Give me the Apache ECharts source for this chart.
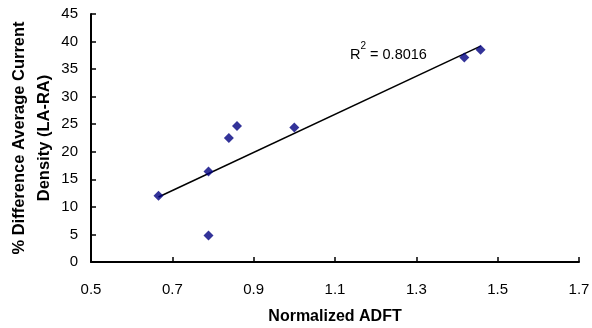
<!DOCTYPE html>
<html>
<head>
<meta charset="utf-8">
<script src="https://cdn.jsdelivr.net/npm/echarts@6/dist/echarts.min.js"></script>
<style>
  html, body { margin: 0; padding: 0; background: #fff; }
  #chart { width: 592px; height: 328px; }
</style>
</head>
<body>
<div id="chart"></div>
<script>
// Normalized ADFT vs % difference (LA-RA)
const adft = [0.666, 0.789, 0.789, 0.839, 0.859, 1.0, 1.418, 1.458];
const pctDiff = [12.0, 16.4, 4.8, 22.5, 24.7, 24.4, 37.1, 38.5];
const rSquared = "0.8016";

// least squares fit for the trendline
const fitLine = (xs, ys) => {
  const n = xs.length;
  const mx = xs.reduce((a, b) => a + b, 0) / n;
  const my = ys.reduce((a, b) => a + b, 0) / n;
  let sxy = 0, sxx = 0;
  for (let i = 0; i < n; i++) {
    sxy += (xs[i] - mx) * (ys[i] - my);
    sxx += (xs[i] - mx) * (xs[i] - mx);
  }
  const slope = sxy / sxx;
  const icpt = my - slope * mx;
  const x0 = Math.min(...xs), x1 = Math.max(...xs);
  return [[x0, icpt + slope * x0], [x1, icpt + slope * x1]];
};

const chart = echarts.init(document.getElementById("chart"));
const font = "Liberation Sans, Arial, sans-serif";

chart.setOption({
  animation: false,
  grid: { left: 91, right: 13, top: 14, bottom: 66, containLabel: false, outerBoundsMode: "none" },
  xAxis: {
    type: "value",
    min: 0.5,
    max: 1.7,
    interval: 0.2,
    name: "Normalized ADFT",
    nameLocation: "middle",
    nameGap: 47,
    nameMoveOverlap: false,
    nameTextStyle: { fontFamily: font, fontSize: 16, fontWeight: "bold", color: "#000" },
    axisLine: { lineStyle: { color: "#000", width: 2 } },
    axisTick: { inside: true, length: 5, lineStyle: { color: "#000", width: 1.5 } },
    axisLabel: {
      fontFamily: font, fontSize: 15, color: "#000", margin: 20,
      formatter: (v) => v.toFixed(1)
    },
    splitLine: { show: false }
  },
  yAxis: {
    type: "value",
    min: 0,
    max: 45,
    interval: 5,
    name: "% Difference Average Current\nDensity (LA-RA)",
    nameLocation: "middle",
    nameGap: 34,
    nameMoveOverlap: false,
    nameTextStyle: { fontFamily: font, fontSize: 16.5, fontWeight: "bold", color: "#000", lineHeight: 25 },
    axisLine: { lineStyle: { color: "#000", width: 2 } },
    axisTick: { inside: true, length: 5, lineStyle: { color: "#000", width: 1.5 } },
    axisLabel: { fontFamily: font, fontSize: 15, color: "#000", margin: 13 },
    splitLine: { show: false }
  },
  series: [
    {
      type: "line",
      data: fitLine(adft, pctDiff),
      symbol: "none",
      lineStyle: { color: "#000", width: 1.5 },
      z: 2
    },
    {
      type: "scatter",
      data: adft.map((x, i) => [x, pctDiff[i]]),
      symbol: "diamond",
      symbolSize: 10,
      itemStyle: { color: "#000080" },
      z: 3
    }
  ],
  graphic: [
    {
      type: "text",
      left: 350,
      top: 41,
      style: {
        text: "{r|R}{s|2}{r| = " + rSquared + "}",
        rich: {
          r: { fontFamily: font, fontSize: 14.5, fill: "#000", verticalAlign: "bottom", padding: [6, 0, 0, 0] },
          s: { fontFamily: font, fontSize: 10, fill: "#000", verticalAlign: "top" }
        }
      }
    }
  ]
});
</script>
</body>
</html>
